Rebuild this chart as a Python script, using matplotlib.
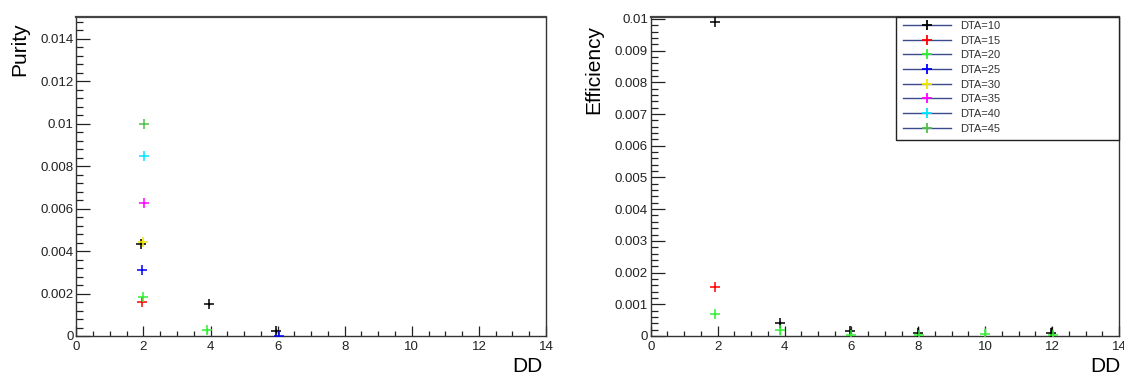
import matplotlib
matplotlib.use("Agg")
import matplotlib.pyplot as plt
from matplotlib.lines import Line2D
from matplotlib.patches import Rectangle
from matplotlib.ticker import MultipleLocator, FuncFormatter

plt.rcParams["font.family"] = ["Liberation Sans", "DejaVu Sans"]

# DTA settings and their ROOT-style colours
dta_labels = ["DTA=10", "DTA=15", "DTA=20", "DTA=25", "DTA=30", "DTA=35", "DTA=40", "DTA=45"]
dta_colors = ["#000000", "#ff0000", "#33ee33", "#0000ff", "#f2e600", "#ff00ff", "#00e5ff", "#4fbf4a"]

# Purity vs DD (one list per DTA)
pur_dd = [
    [1.93, 3.96, 5.95],
    [1.95],
    [1.98, 3.91],
    [1.95, 6.05],
    [2.00],
    [2.01],
    [2.01],
    [2.01],
]
pur_val = [
    [0.00435, 0.00150, 0.00024],
    [0.00160],
    [0.00185, 0.00028],
    [0.00310, 0.00000],
    [0.00443],
    [0.00626],
    [0.00850],
    [0.01000],
]
pur_err = [
    [0.0, 0.00005, 0.00010],
    [0.0],
    [0.0, 0.00012],
    [0.0, 0.00003],
    [0.0],
    [0.0],
    [0.0],
    [0.0],
]

# Efficiency vs DD (only the DTA settings that show up in range)
eff_dd = [
    [1.92, 3.87, 5.97, 7.98, 11.98],
    [1.92],
    [1.92, 3.86, 6.00, 8.02, 10.00, 12.02],
]
eff_val = [
    [0.00990, 0.00042, 0.00016, 0.00008, 0.00008],
    [0.00154],
    [0.00070, 0.00019, 0.00003, 0.00004, 0.00005, 0.00004],
]
eff_err = [
    [0.0, 0.00005, 0.00005, 0.00020, 0.00020],
    [0.0],
    [0.00004, 0.00015, 0.00003, 0.00005, 0.00020, 0.00005],
]

W, H = 1124, 375
fig = plt.figure(figsize=(W / 100, H / 100), dpi=100)


def px_box(x0, x1, ytop, ybot):
    return [x0 / W, 1 - ybot / H, (x1 - x0) / W, (ybot - ytop) / H]


ax1 = fig.add_axes(px_box(76.3, 546, 17.3, 336))
ax2 = fig.add_axes(px_box(650.7, 1119, 17.3, 336))

marker_kw = dict(fmt="+", markersize=6.5, mew=1.1, elinewidth=1.0, capsize=0, zorder=3)

for dd, val, err, c in zip(pur_dd, pur_val, pur_err, dta_colors):
    ax1.errorbar(dd, val, yerr=err, color=c, **marker_kw)

for dd, val, err, c in zip(eff_dd, eff_val, eff_err, dta_colors):
    ax2.errorbar(dd, val, yerr=err, color=c, **marker_kw)

fmt = FuncFormatter(lambda v, p: "%g" % round(v, 6))

for ax, ymax, ymaj, ymin in ((ax1, 0.01502, 0.002, 0.0004), (ax2, 0.01005, 0.001, 0.0002)):
    ax.set_xlim(0, 14)
    ax.set_ylim(0, ymax)
    ax.xaxis.set_major_locator(MultipleLocator(2))
    ax.xaxis.set_minor_locator(MultipleLocator(0.5))
    ax.yaxis.set_major_locator(MultipleLocator(ymaj))
    ax.yaxis.set_minor_locator(MultipleLocator(ymin))
    ax.xaxis.set_major_formatter(fmt)
    ax.yaxis.set_major_formatter(fmt)
    ax.tick_params(axis="both", which="both", direction="in", top=False, right=False,
                   colors="#222222", labelsize=9.5, width=0.9)
    ax.tick_params(axis="y", which="major", length=10, pad=2)
    ax.tick_params(axis="y", which="minor", length=5)
    ax.tick_params(axis="x", which="major", length=7, pad=3.5)
    ax.tick_params(axis="x", which="minor", length=3.5)
    for side in ("left", "bottom", "right"):
        ax.spines[side].set_linewidth(1.0)
        ax.spines[side].set_color("#333333")
    ax.spines["top"].set_linewidth(1.6)
    ax.spines["top"].set_color("#444444")

# Axis titles placed ROOT-style at the far ends of the axes
fig.text(20 / W, 1 - 22 / H, "Purity", rotation=90, ha="center", va="top", fontsize=15)
fig.text(594 / W, 1 - 25 / H, "Efficiency", rotation=90, ha="center", va="top", fontsize=15)
fig.text(542 / W, 1 - 372 / H, "DD", ha="right", va="baseline", fontsize=15)
fig.text(1120 / W, 1 - 372 / H, "DD", ha="right", va="baseline", fontsize=15)

# Legend on the efficiency panel
handles = [
    Line2D([], [], color="#3b4a8c", lw=1.0, marker="+", markersize=7, mew=1.3,
           markeredgecolor=c)
    for c in dta_colors
]
leg = ax2.legend(handles, dta_labels, loc="upper left",
                 bbox_to_anchor=(903 / W, 1 - 21 / H), bbox_transform=fig.transFigure,
                 frameon=False, fontsize=8, handlelength=4.3, handletextpad=0.8,
                 labelspacing=0.42, borderpad=0, borderaxespad=0)
for t in leg.get_texts():
    t.set_color("#333333")

box = Rectangle(((896 - 650.7) / (1119 - 650.7), (336 - 140) / (336 - 17.3)),
                (1119 - 896) / (1119 - 650.7), (140 - 17.3) / (336 - 17.3),
                transform=ax2.transAxes, fill=True, facecolor="white",
                edgecolor="#222222", lw=1.0, zorder=4, clip_on=False)
ax2.add_patch(box)
leg.set_zorder(5)

fig.savefig("out.png", dpi=100)
